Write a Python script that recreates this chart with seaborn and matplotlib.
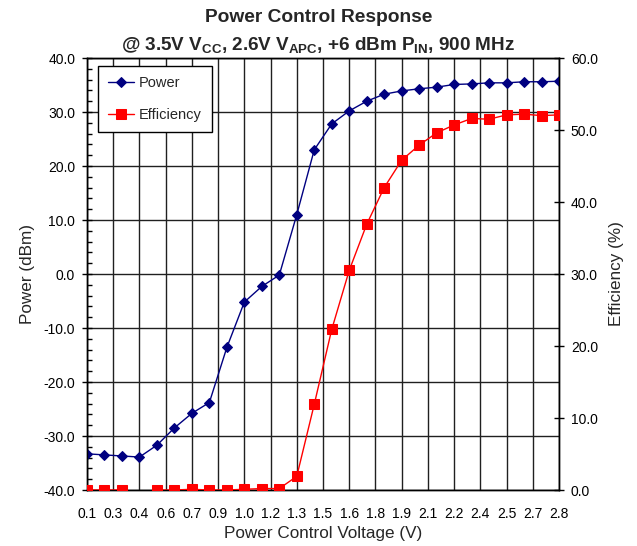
import numpy as np
import pandas as pd
import matplotlib
matplotlib.use("Agg")
import matplotlib.pyplot as plt
import seaborn as sns
from matplotlib.ticker import MultipleLocator, FixedLocator

# ---- data ----
voltage = [0.1, 0.2, 0.3, 0.4, 0.5, 0.6, 0.7, 0.8, 0.9, 1.0,
           1.1, 1.2, 1.3, 1.4, 1.5, 1.6, 1.7, 1.8, 1.9, 2.0,
           2.1, 2.2, 2.3, 2.4, 2.5, 2.6, 2.7, 2.8]
power = [-33.3, -33.5, -33.7, -33.9, -31.7, -28.5, -25.8, -23.8, -13.6, -5.2,
         -2.3, -0.2, 11.0, 23.0, 27.8, 30.2, 32.0, 33.3, 33.9, 34.3,
         34.6, 35.1, 35.2, 35.4, 35.4, 35.6, 35.6, 35.7]
efficiency = [0.0, 0.0, 0.0, -0.4, 0.0, 0.0, 0.1, 0.0, 0.0, 0.1,
              0.2, 0.2, 1.9, 11.9, 22.3, 30.5, 36.9, 42.0, 45.8, 47.9,
              49.6, 50.7, 51.6, 51.5, 52.1, 52.2, 52.0, 52.1]
x_tick_labels = ["0.1", "0.3", "0.4", "0.6", "0.7", "0.9", "1.0", "1.2", "1.3", "1.5",
                 "1.6", "1.8", "1.9", "2.1", "2.2", "2.4", "2.5", "2.7", "2.8"]

df = pd.DataFrame({"voltage": voltage, "power": power, "efficiency": efficiency})

sns.set_style("white")
plt.rcParams["font.family"] = ["Liberation Sans", "DejaVu Sans"]
plt.rcParams["axes.unicode_minus"] = False
plt.rcParams["mathtext.fontset"] = "custom"
plt.rcParams["mathtext.rm"] = "Liberation Sans:bold"
plt.rcParams["mathtext.it"] = "Liberation Sans:bold"
plt.rcParams["mathtext.bf"] = "Liberation Sans:bold"

fig = plt.figure(figsize=(6.37, 5.46), dpi=100)
ax = fig.add_axes([87/637, 1-490/546, (559-87)/637, (490-58)/546])
ax2 = ax.twinx()

sns.lineplot(data=df, x="voltage", y="power", ax=ax, color="#000080",
             marker="D", markersize=5.5, markeredgecolor="#000080",
             linewidth=1.0, label="Power", legend=False, zorder=3)
eff_marks = [i for i, v in enumerate(efficiency) if v >= 0]
sns.lineplot(data=df, x="voltage", y="efficiency", ax=ax2, color="#ff0000",
             marker="s", markersize=6.5, markeredgecolor="#ff0000",
             linewidth=1.0, label="Efficiency", legend=False,
             markevery=eff_marks, zorder=3)

# axes limits & ticks
ax.set_xlim(0.1, 2.8)
ax.set_ylim(-40, 40)
ax2.set_ylim(0, 60)
xt = np.linspace(0.1, 2.8, len(x_tick_labels))
ax.xaxis.set_major_locator(FixedLocator(xt))
ax.set_xticklabels(x_tick_labels)
ax.xaxis.set_minor_locator(FixedLocator(np.linspace(0.1, 2.8, 55)))
ax.yaxis.set_major_locator(MultipleLocator(10))
ax.yaxis.set_minor_locator(MultipleLocator(2))
ax.yaxis.set_major_formatter(matplotlib.ticker.FormatStrFormatter("%.1f"))
ax2.yaxis.set_major_locator(MultipleLocator(10))
ax2.yaxis.set_major_formatter(matplotlib.ticker.FormatStrFormatter("%.1f"))

ax.tick_params(axis="both", which="major", direction="inout", length=7, width=1,
               labelsize=10, colors="black", pad=5)
ax.tick_params(axis="both", which="minor", direction="in", length=3.5, width=1, colors="black")
ax.tick_params(axis="x", which="major", pad=9)
ax2.tick_params(axis="y", which="major", direction="inout", length=7, width=1,
                labelsize=10, colors="black", pad=5)

ax.grid(True, which="major", color="#202020", linewidth=1.0)
ax.set_axisbelow(True)
for a in (ax, ax2):
    for s in a.spines.values():
        s.set_color("black")
        s.set_linewidth(1.0)

ax.set_xlabel("Power Control Voltage (V)", fontsize=12.3, labelpad=3)
ax.set_ylabel("Power (dBm)", fontsize=12.3, labelpad=6)
ax2.set_ylabel("Efficiency (%)", fontsize=12.3, rotation=90, labelpad=8)

fig.text(0.5, 1-18/546, "Power Control Response", ha="center", va="center",
         fontsize=13.8, fontweight="bold")
fig.text(0.5, 1-45/546,
         r"@ 3.5V V$\mathrm{_{CC}}$, 2.6V V$\mathrm{_{APC}}$, +6 dBm P$\mathrm{_{IN}}$, 900 MHz",
         ha="center", va="center", fontsize=13.6, fontweight="bold")

h1, l1 = ax.get_legend_handles_labels()
h2, l2 = ax2.get_legend_handles_labels()
leg = ax2.legend(h1 + h2, l1 + l2, loc="upper left",
                 bbox_to_anchor=(98/637, 1-66/546), bbox_transform=fig.transFigure,
                 fontsize=10.5, frameon=True, fancybox=False, edgecolor="black",
                 framealpha=1, labelspacing=1.2, handlelength=1.8, handletextpad=0.3,
                 borderpad=0.7, borderaxespad=0)
leg.get_frame().set_linewidth(1.0)

fig.savefig("out.png", dpi=100)
